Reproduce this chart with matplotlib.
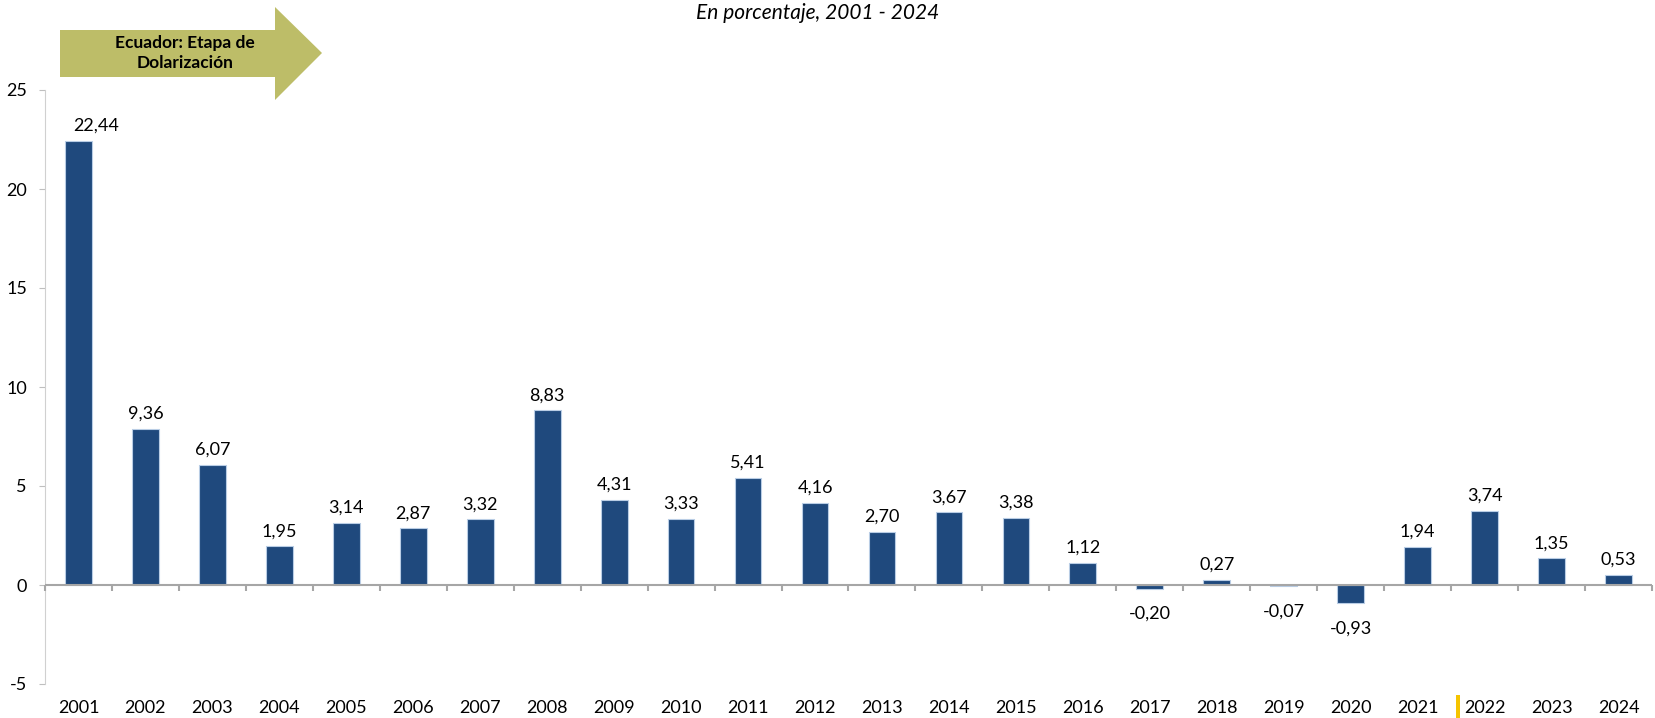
import numpy as np
import matplotlib.pyplot as plt
from matplotlib.patches import Polygon, Rectangle

years = [str(y) for y in range(2001, 2025)]
# bar heights as drawn in the reference (2002 bar is shorter than its label)
bar_values = [22.44, 7.90, 6.07, 1.95, 3.14, 2.87, 3.32, 8.83, 4.31, 3.33, 5.41, 4.16,
              2.70, 3.67, 3.38, 1.12, -0.20, 0.27, -0.07, -0.93, 1.94, 3.74, 1.35, 0.53]
label_values = [22.44, 9.36, 6.07, 1.95, 3.14, 2.87, 3.32, 8.83, 4.31, 3.33, 5.41, 4.16,
                2.70, 3.67, 3.38, 1.12, -0.20, 0.27, -0.07, -0.93, 1.94, 3.74, 1.35, 0.53]
y_ticks = [-5, 0, 5, 10, 15, 20, 25]

plt.rcParams['font.family'] = ['Lato', 'DejaVu Sans']

W, H = 1656, 718
fig = plt.figure(figsize=(W / 100, H / 100), dpi=100)
ax = fig.add_axes([45 / W, 1 - 684 / H, (1652 - 45) / W, (684 - 90) / H])

x = np.arange(len(years))
bars = ax.bar(x, bar_values, width=0.4, color='#1f497d', edgecolor='#b9cde5', linewidth=0.8, zorder=3)

ax.set_xlim(-0.5, len(years) - 0.5)
ax.set_ylim(-5, 25)

# data labels
for i, (b, lab) in enumerate(zip(bar_values, label_values)):
    txt = f'{lab:.2f}'.replace('.', ',')
    dx = 18 if i == 0 else 0
    if b >= 0:
        ax.annotate(txt, (i, b), xytext=(dx, 15), textcoords='offset pixels',
                    ha='center', va='center', fontsize=13)
    else:
        ax.annotate(txt, (i, b), xytext=(dx, -25), textcoords='offset pixels',
                    ha='center', va='center', fontsize=13)

# spines
for s in ['top', 'right', 'bottom']:
    ax.spines[s].set_visible(False)
ax.spines['left'].set_color('#d0d0d0')
ax.spines['left'].set_linestyle((0, (1, 1)))
ax.spines['left'].set_linewidth(0.8)

ax.set_yticks(y_ticks)
ax.set_yticklabels([str(t) for t in y_ticks], fontsize=13)
ax.tick_params(axis='y', length=4, color='#bfbfbf', pad=9)

# zero axis with category tick marks
ax.axhline(0, color='#a6a6a6', linewidth=1.5, zorder=4)
ax.set_xticks([])
bounds = np.arange(len(years) + 1) - 0.5
ax.vlines(bounds, 0, -0.3, color='#a6a6a6', linewidth=1.5, zorder=4, clip_on=False)

for i, yr in enumerate(years):
    ax.text(i, -0.04, yr, transform=ax.get_xaxis_transform(), ha='center', va='center', fontsize=13)

# title
fig.text(818 / W, 1 - 13 / H, 'En porcentaje, 2001 - 2024', ha='center', va='center',
         fontsize=15, style='italic')

# arrow
pts = [(60, 30), (275, 30), (275, 7), (322, 53), (275, 100), (275, 77), (60, 77)]
arrow = Polygon([(px / W, 1 - py / H) for px, py in pts], closed=True,
                transform=fig.transFigure, facecolor='#bdbd68', edgecolor='none')
fig.patches.append(arrow)
fig.text(185 / W, 1 - 53 / H, 'Ecuador: Etapa de\nDolarización', ha='center', va='center',
         fontsize=12.5, fontweight='bold', linespacing=1.25)

# small yellow mark near bottom
fig.patches.append(Rectangle((1456 / W, 0), 4 / W, 23 / H, transform=fig.transFigure,
                             facecolor='#f5c400', edgecolor='none'))

fig.savefig('out.png', dpi=100)
